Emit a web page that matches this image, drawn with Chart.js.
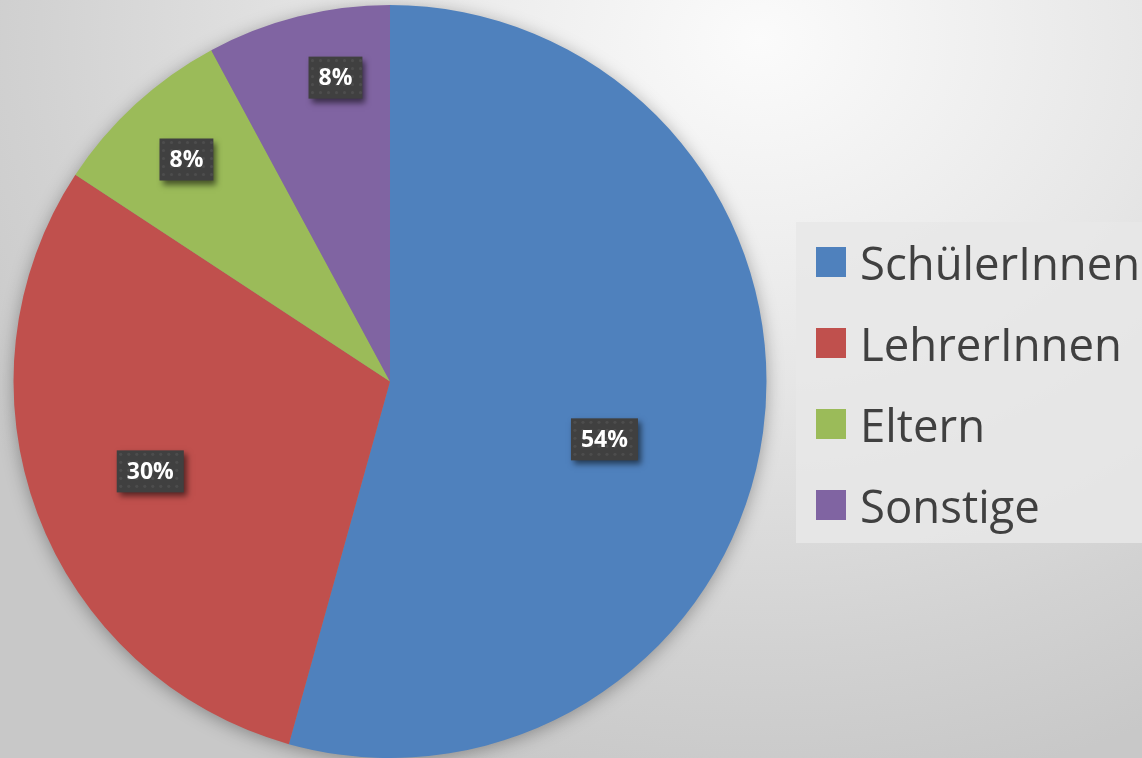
<!DOCTYPE html>
<html>
<head>
<meta charset="utf-8">
<script src="https://cdn.jsdelivr.net/npm/chart.js@4.4.0/dist/chart.umd.min.js"></script>
<style>
  html, body { margin: 0; padding: 0; }
  body {
    width: 1142px; height: 758px; overflow: hidden; position: relative;
    background: radial-gradient(ellipse 900px 760px at 760px 40px, #fbfbfb 0%, #e6e6e6 45%, #d2d2d2 80%, #c8c8c8 100%);
  }
  #wrap { position: absolute; left: 0; top: 0; width: 1142px; height: 758px; }
  #legend {
    position: absolute; left: 796px; top: 222px; width: 346px; height: 321px;
    background: rgba(232, 232, 232, 0.85);
    font-family: "Open Sans", sans-serif; font-size: 45.5px; color: #404040;
    box-sizing: border-box; padding-top: 0px;
  }
  .item { position: relative; height: 81px; line-height: 81px; padding-left: 64px; white-space: nowrap; }
  .item span.box { position: absolute; left: 20px; top: 25px; width: 30px; height: 30px; }
</style>
</head>
<body>
<div id="wrap"><canvas id="pieChart" width="1142" height="758"></canvas></div>
<div id="legend"></div>
<script>
// Data
const categories = ['SchülerInnen', 'LehrerInnen', 'Eltern', 'Sonstige'];
const values = [69, 38, 10, 10];
const colors = ['#4f81bd', '#c0504d', '#9bbb59', '#8064a2'];
// where each percent label sits: fraction of radius, and angle nudge in degrees
const labelRadius = [0.59, 0.68, 0.80, 0.82];
const labelTurn = [7.3, 0, 0, 4];

// Legend
const legendEl = document.getElementById('legend');
categories.forEach((name, i) => {
    const row = document.createElement('div');
    row.className = 'item';
    row.innerHTML = '<span class="box" style="background:' + colors[i] + '"></span>' + name;
    legendEl.appendChild(row);
});

// soft shadow behind the pie
const pieShadow = {
    id: 'pieShadow',
    beforeDatasetsDraw(chart) {
        const arc = chart.getDatasetMeta(0).data[0];
        if (!arc) return;
        const ctx = chart.ctx;
        ctx.save();
        ctx.shadowColor = 'rgba(0,0,0,0.35)';
        ctx.shadowBlur = 18;
        ctx.shadowOffsetY = 3;
        ctx.fillStyle = '#888';
        ctx.beginPath();
        ctx.arc(arc.x, arc.y, arc.outerRadius - 1, 0, Math.PI * 2);
        ctx.fill();
        ctx.restore();
    }
};

// dark percentage boxes
const pctLabels = {
    id: 'pctLabels',
    afterDatasetsDraw(chart) {
        const ctx = chart.ctx;
        const meta = chart.getDatasetMeta(0);
        const total = values.reduce((a, b) => a + b, 0);
        ctx.save();
        ctx.font = 'bold 23px "Open Sans", sans-serif';
        ctx.textAlign = 'center';
        ctx.textBaseline = 'middle';
        meta.data.forEach((arc, i) => {
            const mid = (arc.startAngle + arc.endAngle) / 2 + labelTurn[i] * Math.PI / 180;
            const r = arc.outerRadius * labelRadius[i];
            const x = arc.x + Math.cos(mid) * r;
            const y = arc.y + Math.sin(mid) * r;
            const txt = Math.round(values[i] / total * 100) + '%';
            const w = ctx.measureText(txt).width + 20;
            const h = 42;
            ctx.save();
            ctx.shadowColor = 'rgba(0,0,0,0.55)';
            ctx.shadowBlur = 6;
            ctx.shadowOffsetX = 3;
            ctx.shadowOffsetY = 4;
            ctx.fillStyle = '#404040';
            ctx.fillRect(x - w / 2, y - h / 2, w, h);
            ctx.restore();
            // faint dotted texture
            ctx.fillStyle = 'rgba(255,255,255,0.07)';
            for (let dx = 4; dx < w; dx += 8) {
                for (let dy = 4; dy < h; dy += 8) {
                    ctx.beginPath();
                    ctx.arc(x - w / 2 + dx, y - h / 2 + dy, 1.6, 0, Math.PI * 2);
                    ctx.fill();
                }
            }
            ctx.fillStyle = '#ffffff';
            ctx.fillText(txt, x, y + 1);
        });
        ctx.restore();
    }
};

new Chart(document.getElementById('pieChart'), {
    type: 'pie',
    data: {
        labels: categories,
        datasets: [{
            data: values,
            backgroundColor: colors,
            borderWidth: 0
        }]
    },
    options: {
        responsive: false,
        animation: false,
        layout: { padding: { left: 13, right: 375, top: 5, bottom: 0 } },
        plugins: {
            legend: { display: false },
            tooltip: { enabled: false }
        }
    },
    plugins: [pieShadow, pctLabels]
});
</script>
</body>
</html>
